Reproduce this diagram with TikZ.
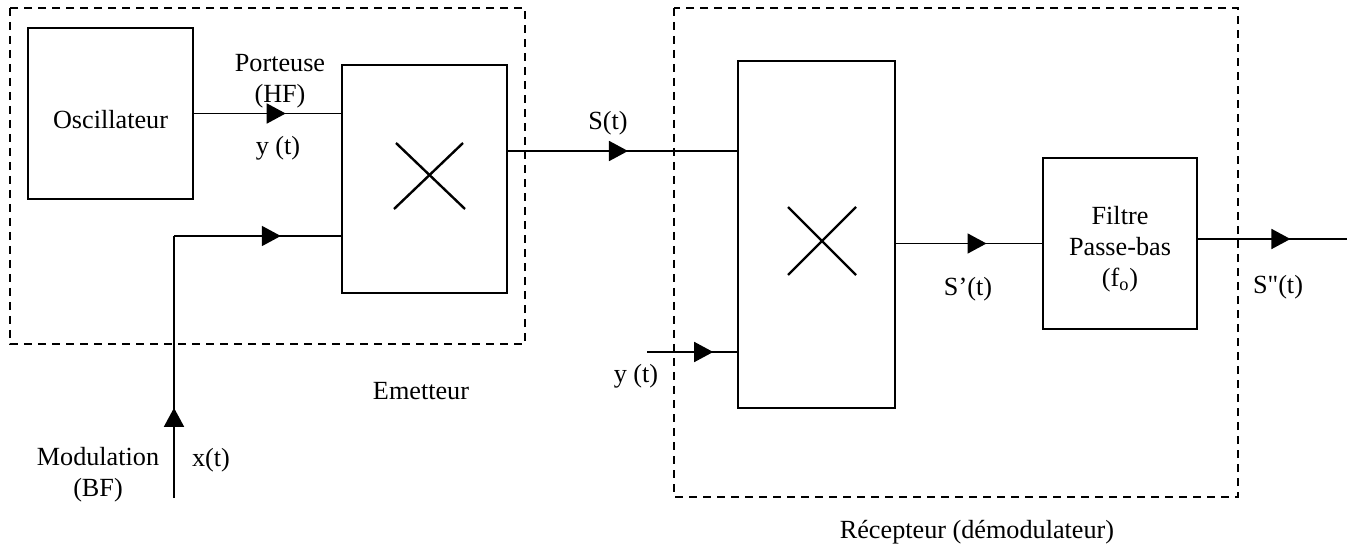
\documentclass[tikz,border=0pt]{standalone}
\usepackage{fontspec}
\setmainfont{Liberation Serif}
\usetikzlibrary{arrows.meta,decorations.markings}
\begin{document}
\begin{tikzpicture}[x=0.5pt,y=-0.5pt,
  every node/.style={font=\fontsize{13.1}{15.5}\selectfont, inner sep=0pt},
  blockbox/.style={draw, line width=1.1pt, inner sep=0pt, align=center},
  wire/.style={line width=0.9pt},
  frame/.style={draw, dashed, line width=0.9pt, dash pattern=on 4pt off 3pt},
  midarrow/.style={postaction={decorate},decoration={markings,
     mark=at position #1 with {\arrow{Triangle[length=9.5pt,width=10pt]}}}},
  cross/.style={line width=1.2pt}
]
\useasboundingbox (0,0) rectangle (1355,545);
% frames
\draw[frame] (10,8) rectangle (525,344);
\draw[frame] (674,8) rectangle (1238,497);
% blocks
\node[blockbox, minimum width=82.5pt, minimum height=85.5pt,
  label={[yshift=-3pt]center:Oscillateur}] (osc) at (110.5,113.5) {};
\node[blockbox, minimum width=82.5pt, minimum height=114pt] (mulA) at (424.5,179) {};
\node[blockbox, minimum width=78.5pt, minimum height=173.5pt] (mulB) at (816.5,234.5) {};
\node[blockbox, minimum width=77pt, minimum height=85.5pt,
  label={[align=center,yshift=-3pt]center:Filtre\\Passe-bas\\(f\textsubscript{o})}] (filt) at (1120,243.5) {};
% crosses
\draw[cross] (396,143) -- (465,209);
\draw[cross] (463,143) -- (394,209);
\draw[cross] (788,207) -- (856,275);
\draw[cross] (856,207) -- (788,275);
% coordinates
\coordinate (modin) at (174,498);
\coordinate (corner) at (174,236);
\coordinate (sline) at (0,151);
\coordinate (yin) at (647,352);
\coordinate (sout) at (1347,239);
% connectors
\draw[wire, midarrow=0.624] (osc.east) -- (mulA.west |- osc.east);
\draw[wire, midarrow=0.344] (modin) -- (corner);
\draw[wire, midarrow=0.64] (corner) -- (mulA.west |- corner);
\draw[wire, midarrow=0.524] (mulA.east |- sline) -- (mulB.west |- sline);
\draw[wire, midarrow=0.736] (yin) -- (mulB.west |- yin);
\draw[wire, midarrow=0.62] (mulB.east |- filt.west) -- (filt.west);
\draw[wire, midarrow=0.62] (filt.east |- sout) -- (sout);
% labels
\node[align=center] (lporteuse) at (280,81) {Porteuse\\(HF)};
\node (lyA) at (278,148) {y (t)};
\node[align=center] (lmod) at (98,475) {Modulation\\(BF)};
\node (lx) at (211,460) {x(t)};
\node (lem) at (421,391) {Emetteur};
\node (ls) at (608,123) {S(t)};
\node (lyB) at (636,376) {y (t)};
\node (lsp) at (968,289) {S’(t)};
\node (lspp) at (1278,287) {{\addfontfeatures{Ligatures=TeXOff}S"(t)}};
\node (lrec) at (977,532) {Récepteur (démodulateur)};
\end{tikzpicture}
\end{document}
